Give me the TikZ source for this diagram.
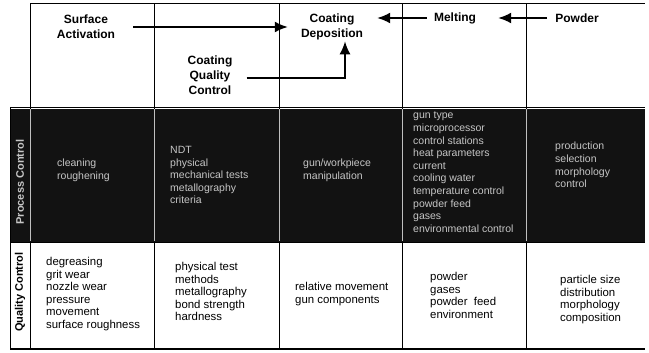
\documentclass[tikz,border=0pt]{standalone}
\usepackage{fontspec}
\setmainfont{Liberation Sans}
\usetikzlibrary{arrows.meta, positioning, calc}

\begin{document}
\begin{tikzpicture}
[
    x=1pt, y=-1pt,
    head/.style={
        align=center,
        inner sep=0pt,
        font=\fontsize{12}{15}\selectfont\bfseries,
    },
    items/.style={
        align=left,
        anchor=north west,
        inner sep=0pt,
        font=\fontsize{11.4}{12.6}\selectfont,
    },
    darkitems/.style={
        items,
        text=gray!45,
        font=\fontsize{10.5}{12.6}\selectfont,
    },
    rowlabel/.style={
        rotate=90,
        inner sep=0pt,
        font=\fontsize{11}{13}\selectfont\bfseries,
    },
    grid/.style={line width=1pt},
    arrow/.style={-{Latex[length=13pt,width=11pt]}, line width=1.8pt}
]
\useasboundingbox (0,0) rectangle (649,353);

% Dark middle band
\fill[black!93] (10,109) rectangle (645,242);

% Table lines
\draw[grid] (30,4) -- (645,4);
\draw[grid] (10,108) -- (645,108);
\draw[grid] (10,242) -- (645,242);
\draw[line width=1.6pt] (10,349) -- (645,349);
\draw[grid] (10,108) -- (10,349);
\foreach \x in {30,154,279,402,526} {
    \draw[grid] (\x,4) -- (\x,109);
    \draw[grid, gray!50] (\x,109) -- (\x,241);
    \draw[grid] (\x,242) -- (\x,349);
}

% Define the nodes
\node[head] (sa) at (86,27) {Surface\\Activation};
\node[head] (cqc) at (210,75) {Coating\\Quality\\Control};
\node[head] (cd) at (332,27) {Coating\\Deposition};
\node[head] (mt) at (455,18) {Melting};
\node[head] (pw) at (577,18) {Powder};

% Row labels
\node[rowlabel, text=gray!45] (pclabel) at (20,182) {Process Control};
\node[rowlabel] (qclabel) at (20,292) {Quality Control};

% Middle row texts
\node[darkitems] (pc1) at (57,159) {cleaning\\roughening};
\node[darkitems] (pc2) at (170,146) {NDT\\physical\\mechanical tests\\metallography\\criteria};
\node[darkitems] (pc3) at (303,159) {gun/workpiece\\manipulation};
\node[darkitems] (pc4) at (413,112) {gun type\\microprocessor\\control stations\\heat parameters\\current\\cooling water\\temperature control\\powder feed\\gases\\environmental control};
\node[darkitems] (pc5) at (555,142) {production\\selection\\morphology\\control};

% Bottom row texts
\node[items] (qc1) at (46,257) {degreasing\\grit wear\\nozzle wear\\pressure\\movement\\surface roughness};
\node[items] (qc2) at (175,262) {physical test\\methods\\metallography\\bond strength\\hardness};
\node[items] (qc3) at (295,282) {relative movement\\gun components};
\node[items] (qc4) at (430,272) {powder\\gases\\powder\ \ feed\\environment};
\node[items] (qc5) at (560,275) {particle size\\distribution\\morphology\\composition};

% Arrows into the deposition step
\draw[arrow] ([xshift=18pt]sa.east) -- ([xshift=-13pt]cd.west |- sa.east);
\draw[arrow] ([xshift=14pt,yshift=-3pt]cqc.east) -| ([xshift=13pt,yshift=-1pt]cd.south);
\draw[arrow] ([xshift=-7pt]mt.west) -- ([xshift=14pt]cd.east |- mt.west);
\draw[arrow] ([xshift=-8pt]pw.west) -- ([xshift=22pt]mt.east);

\end{tikzpicture}
\end{document}
